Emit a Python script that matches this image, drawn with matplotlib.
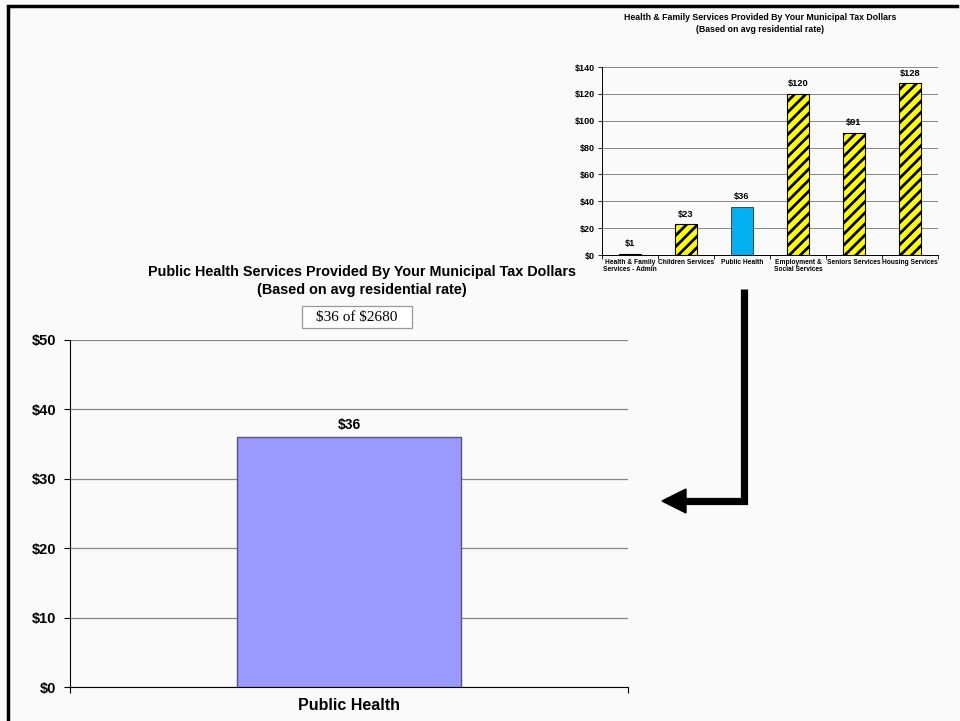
import matplotlib.pyplot as plt
from matplotlib.lines import Line2D
from matplotlib.patches import Polygon, Rectangle

plt.rcParams["font.family"] = ["Liberation Sans", "DejaVu Sans"]
plt.rcParams["font.weight"] = "bold"
plt.rcParams["hatch.linewidth"] = 2.0

# overall breakdown (small chart)
services = [
    "Health & Family\nServices - Admin",
    "Children Services",
    "Public Health",
    "Employment &\nSocial Services",
    "Seniors Services",
    "Housing Services",
]
costs = [1, 23, 36, 120, 91, 128]
highlight = "Public Health"

# single-service detail (large chart)
detail_label = ["Public Health"]
detail_cost = [36]
total_cost = 2680

W, H = 960, 721
fig = plt.figure(figsize=(9.6, 7.21), dpi=100, facecolor="#fafafa")


def fx(px):
    return px / W


def fy(py):
    return 1 - py / H


def money(v, _=None):
    return "${:.0f}".format(v)


# ---- small overview chart, top right ----
ax2 = fig.add_axes([fx(602), fy(255), fx(336), fy(67) - fy(255)])
ax2.set_facecolor("none")
xs = range(len(services))
for i, (name, v) in enumerate(zip(services, costs)):
    if name == highlight:
        ax2.bar(i, v, width=0.41, color="#00b0f0", edgecolor="#333333", linewidth=0.6, zorder=3)
    else:
        ax2.bar(i, v, width=0.41, color="#ffff00", edgecolor="black", linewidth=0.8,
                hatch="///", zorder=3)
    ax2.text(i, v + 4, money(v), ha="center", va="bottom", fontsize=6.7, fontweight="bold")
ax2.set_xlim(-0.5, len(services) - 0.5)
ax2.set_ylim(0, 140)
ax2.set_yticks(range(0, 141, 20))
ax2.yaxis.set_major_formatter(money)
ax2.set_xticks(list(xs))
ax2.set_xticklabels(services, fontsize=4.8, fontweight="bold", linespacing=0.95)
ax2.set_xticks([i + 0.5 for i in range(-1, len(services))], minor=True)
ax2.tick_params(axis="x", which="major", length=0, pad=3)
ax2.tick_params(axis="x", which="minor", length=3, width=0.6, direction="out")
ax2.tick_params(axis="y", labelsize=6.5, length=3, width=0.6, pad=2)
for lab in ax2.get_yticklabels():
    lab.set_fontweight("bold")
ax2.grid(axis="y", color="#888888", linewidth=0.7, zorder=0)
for s in ["top", "right"]:
    ax2.spines[s].set_visible(False)
ax2.spines["left"].set_linewidth(0.7)
ax2.spines["bottom"].set_linewidth(0.7)
fig.text(fx(760), fy(17), "Health & Family Services Provided By Your Municipal Tax Dollars",
         ha="center", va="center", fontsize=6.3, fontweight="bold")
fig.text(fx(760), fy(29), "(Based on avg residential rate)",
         ha="center", va="center", fontsize=6.3, fontweight="bold")

# ---- large detail chart ----
ax = fig.add_axes([fx(70), fy(687), fx(558), fy(340) - fy(687)])
ax.set_facecolor("none")
ax.bar(range(len(detail_cost)), detail_cost, width=0.4, color="#9999ff",
       edgecolor="#555577", linewidth=1.0, zorder=3)
for i, v in enumerate(detail_cost):
    ax.text(i, v + 0.8, money(v), ha="center", va="bottom", fontsize=10, fontweight="bold")
ax.set_xlim(-0.5, 0.5)
ax.set_ylim(0, 50)
ax.set_yticks(range(0, 51, 10))
ax.yaxis.set_major_formatter(money)
ax.set_xticks([0])
ax.set_xticklabels(detail_label, fontsize=11.5, fontweight="bold")
ax.set_xticks([-0.5, 0.5], minor=True)
ax.tick_params(axis="x", which="major", length=0, pad=8)
ax.tick_params(axis="x", which="minor", length=4, width=0.8)
ax.tick_params(axis="y", labelsize=10.5, length=4, width=0.8, pad=6)
for lab in ax.get_yticklabels():
    lab.set_fontweight("bold")
ax.grid(axis="y", color="#888888", linewidth=0.9, zorder=0)
for s in ["top", "right"]:
    ax.spines[s].set_visible(False)

fig.text(fx(362), fy(272), "Public Health Services Provided By Your Municipal Tax Dollars",
         ha="center", va="center", fontsize=10.4, fontweight="bold")
fig.text(fx(362), fy(290), "(Based on avg residential rate)",
         ha="center", va="center", fontsize=10.4, fontweight="bold")

# share-of-total box
fig.add_artist(Rectangle((fx(302), fy(328)), fx(110), fy(306) - fy(328),
                         transform=fig.transFigure, facecolor="white",
                         edgecolor="#999999", linewidth=0.9))
fig.text(fx(357), fy(317), r"\${} of \${}".format(detail_cost[0], total_cost),
         ha="center", va="center", fontsize=11, fontweight="normal",
         family=["Liberation Serif", "DejaVu Serif"])

# elbow arrow pointing from the small chart to the detail chart
fig.add_artist(Line2D([fx(744), fx(744), fx(683)], [fy(289), fy(500.5), fy(500.5)],
                      transform=fig.transFigure, color="black", linewidth=5.2,
                      solid_joinstyle="miter", solid_capstyle="butt"))
fig.add_artist(Polygon([(fx(662), fy(501)), (fx(686), fy(489)), (fx(686), fy(513))],
                       closed=True, transform=fig.transFigure, color="black"))

# slide frame edges
fig.add_artist(Line2D([fx(7.5), fx(7.5), fx(957)], [0, fy(6), fy(6)],
                      transform=fig.transFigure, color="black", linewidth=2.5,
                      solid_joinstyle="miter"))

fig.savefig("out.png", dpi=100, facecolor=fig.get_facecolor())
